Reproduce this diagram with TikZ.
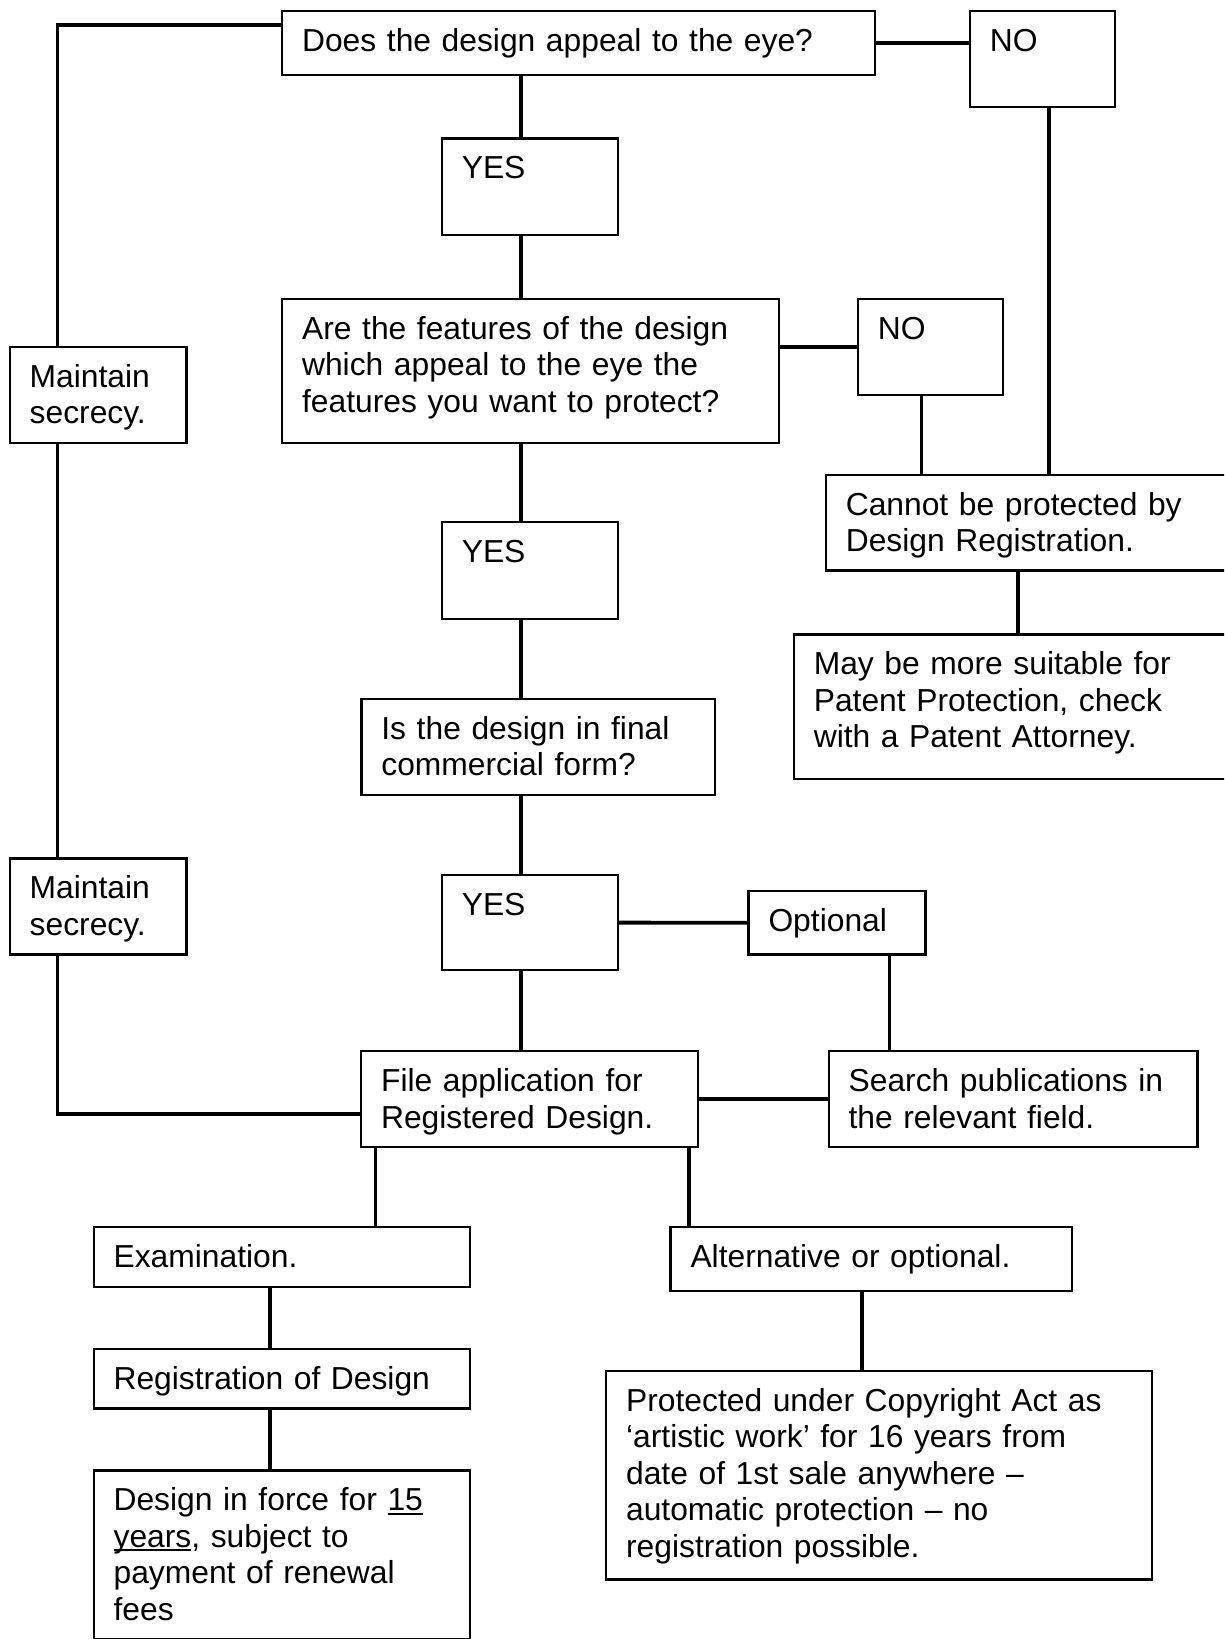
\documentclass[tikz,border=0pt]{standalone}
\usepackage{fontspec}
\setmainfont{Liberation Sans}
\newcommand\bfnt{\fontsize{31.8pt}{36.5pt}\selectfont}
\newcommand\myul[1]{\leavevmode\setbox0\hbox{#1}\rlap{\rule[-4pt]{\wd0}{2pt}}\box0}
\tikzset{
  box/.style={draw, line width=2.2pt, anchor=north west, inner xsep=20pt, inner ysep=0pt,
    align=left, text height=40.5pt, font=\bfnt},
  conn/.style={line width=3.8pt, line join=miter}
}
\begin{document}
\begin{tikzpicture}[x=1pt,y=-1pt]
\useasboundingbox (0,0) rectangle (1224,1639);
\clip (0,0) rectangle (1224,1639);
\fill[white] (0,0) rectangle (1224,1639);

% boxes
\node[box, text width=552.5pt, text depth=23.5pt] (top) at (281,10) {Does the design appeal to the eye?};
\node[box, text width=104.8pt, text depth=55.5pt] (no1) at (968.8,10) {NO};
\node[box, text width=136.3pt, text depth=56.2pt] (yes1) at (440.7,137.3) {YES};
\node[box, text width=456.5pt, text depth=103.5pt] (feat) at (281,297.7) {Are the features of the design\\which appeal to the eye the\\features you want to protect?};
\node[box, text width=104.8pt, text depth=55.8pt] (no2) at (856.7,297.7) {NO};
\node[box, text width=136.8pt, text depth=55.5pt] (m1) at (8.6,345.7) {Maintain\\secrecy.};
\node[box, text width=375.3pt, text depth=55.1pt] (cannot) at (824.7,473.7) {Cannot be protected by\\Design Registration.};
\node[box, text width=136.3pt, text depth=56.5pt] (yes2) at (440.7,521) {YES};
\node[box, text width=407.3pt, text depth=103.9pt] (may) at (792.7,633.3) {May be more suitable for\\Patent Protection, check\\with a Patent Attorney.};
\node[box, text width=313.2pt, text depth=55.5pt] (isd) at (360.3,697.7) {Is the design in final\\commercial form?};
\node[box, text width=136.8pt, text depth=55.5pt] (m2) at (8.6,857.3) {Maintain\\secrecy.};
\node[box, text width=136.3pt, text depth=54.5pt] (yes3) at (440.7,874) {YES};
\node[box, text width=136.9pt, text depth=22.8pt] (opt) at (747.4,890) {Optional};
\node[box, text width=297pt, text depth=55.5pt] (file) at (360,1050) {File application for\\Registered Design.};
\node[box, text width=328.8pt, text depth=55.5pt] (search) at (827.5,1050) {Search publications in\\the relevant field.};
\node[box, text width=336.5pt, text depth=19.2pt] (exam) at (92.5,1226) {Examination.};
\node[box, text width=361.2pt, text depth=23.5pt] (alt) at (669.4,1226) {Alternative or optional.};
\node[box, text width=336.5pt, text depth=19.3pt] (reg) at (92.5,1347.6) {Registration of Design};
\node[box, text width=336.5pt, text depth=128.2pt] (dif) at (92.5,1469.3) {Design in force for \myul{15}\\\myul{years}, subject to\\payment of renewal\\fees};
\node[box, text width=505.6pt, text depth=168.2pt] (prot) at (605,1369.7) {Protected under Copyright Act as\\‘artistic work’ for 16 years from\\date of 1st sale anywhere --\\automatic protection -- no\\registration possible.};

% connector guide coordinates
\coordinate (sp) at (521,0);
\coordinate (lx) at (57.4,25);
\coordinate (lb) at (57.4,1113.7);
\coordinate (n2x) at (921.5,0);
\coordinate (n1x) at (1049,0);
\coordinate (cmx) at (1018,0);
\coordinate (ox) at (889.5,0);
\coordinate (fex) at (375.5,0);
\coordinate (fax) at (689,0);
\coordinate (erx) at (270,0);
\coordinate (apx) at (861.8,0);

% connectors
\draw[conn] (top.west |- lx) -- (lx) -- (lx |- m1.north);
\draw[conn] (lx |- m1.south) -- (lx |- m2.north);
\draw[conn] (lx |- m2.south) -- (lb) -- (file.west |- lb);
\draw[conn] (top.east) -- (top.east -| no1.west);
\draw[conn] (sp |- top.south) -- (sp |- yes1.north);
\draw[conn] (sp |- yes1.south) -- (sp |- feat.north);
\draw[conn] (sp |- feat.south) -- (sp |- yes2.north);
\draw[conn] (sp |- yes2.south) -- (sp |- isd.north);
\draw[conn] (sp |- isd.south) -- (sp |- yes3.north);
\draw[conn] (sp |- yes3.south) -- (sp |- file.north);
\draw[conn] (feat.east |- no2.west) -- (no2.west);
\draw[conn] (n2x |- no2.south) -- (n2x |- cannot.north);
\draw[conn] (n1x |- no1.south) -- (n1x |- cannot.north);
\draw[conn] (cmx |- cannot.south) -- (cmx |- may.north);
\draw[conn] (yes3.east) -- (opt.west);
\draw[conn] (ox |- opt.south) -- (ox |- search.north);
\draw[conn] (file.east) -- (search.west);
\draw[conn] (fex |- file.south) -- (fex |- exam.north);
\draw[conn] (fax |- file.south) -- (fax |- alt.north);
\draw[conn] (erx |- exam.south) -- (erx |- reg.north);
\draw[conn] (erx |- reg.south) -- (erx |- dif.north);
\draw[conn] (apx |- alt.south) -- (apx |- prot.north);
\end{tikzpicture}
\end{document}
